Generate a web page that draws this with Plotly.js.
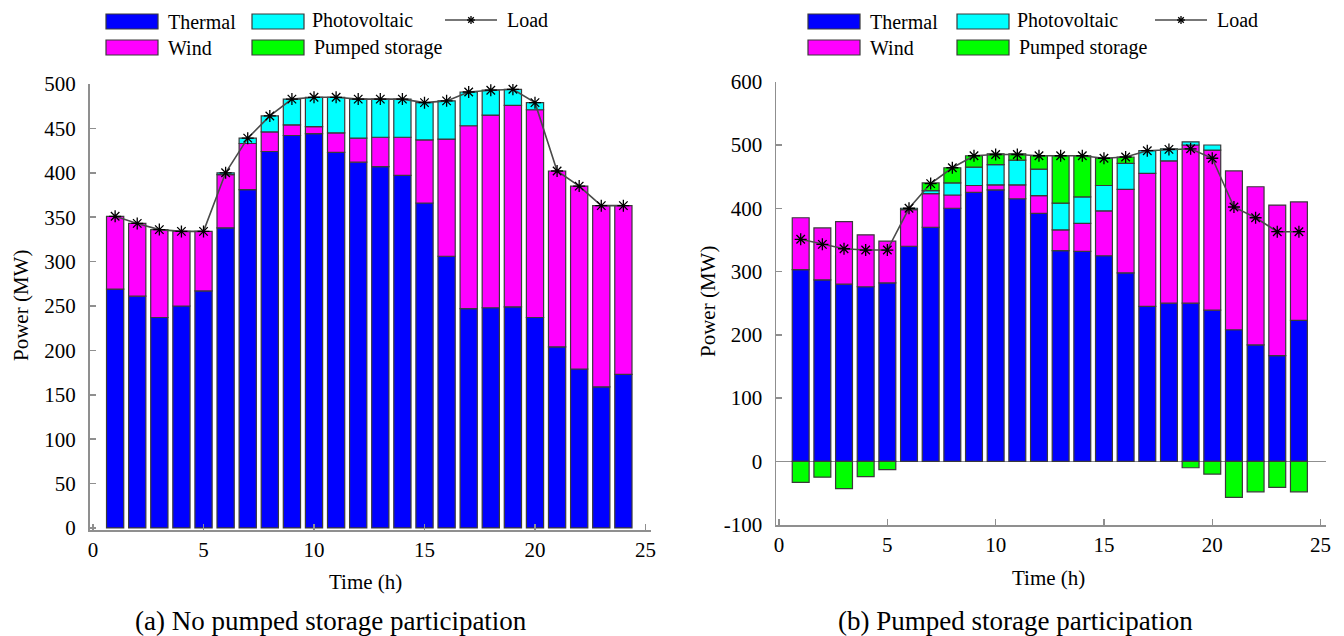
<!DOCTYPE html>
<html>
<head>
<meta charset="utf-8">
<script src="https://cdn.plot.ly/plotly-3.0.1.min.js"></script>
<style>
  html, body { margin: 0; padding: 0; background: #ffffff; }
  #chart { width: 1344px; height: 636px; }
</style>
</head>
<body>
<div id="chart"></div>
<script>
// Hourly dispatch, 24 h
const hours = [1, 2, 3, 4, 5, 6, 7, 8, 9, 10, 11, 12, 13, 14, 15, 16, 17, 18, 19, 20, 21, 22, 23, 24];

// System load (MW), same in both cases
const load = [351, 343, 336, 334, 334, 400, 439, 464, 483, 485, 485, 483, 483, 483, 479, 481, 491, 493, 494, 479, 402, 385, 363, 363];

// (a) No pumped storage participation (MW)
const thermalA = [269, 261, 237, 250, 267, 338, 381, 424, 442, 444, 423, 412, 407, 397, 366, 306, 247, 248, 249, 237, 204, 179, 159, 173];
const windA    = [82, 82, 99, 84, 67, 60, 52, 22, 12, 8, 22, 27, 33, 43, 71, 132, 206, 217, 227, 234, 198, 206, 204, 190];
const pvA      = [0, 0, 0, 0, 0, 2, 6, 18, 29, 33, 40, 44, 43, 43, 42, 43, 38, 28, 18, 8, 0, 0, 0, 0];

// (b) Pumped storage participation (MW); negative storage = pumping
const thermalB = [303, 287, 280, 276, 282, 340, 370, 400, 425, 429, 415, 392, 333, 332, 325, 298, 245, 250, 250, 239, 208, 184, 167, 223];
const windB    = [82, 82, 99, 82, 66, 58, 53, 21, 11, 8, 22, 28, 33, 44, 71, 132, 210, 225, 250, 253, 251, 250, 238, 187];
const pvB      = [0, 0, 0, 0, 0, 2, 5, 19, 29, 32, 39, 42, 42, 42, 40, 41, 36, 19, 5, 8, 0, 0, 0, 0];
const storageB = [-33, -25, -43, -24, -13, 0, 12, 24, 18, 17, 10, 21, 75, 65, 43, 10, 0, 0, -10, -20, -57, -48, -41, -48];

// Power axis ticks of panel (b), labelled with a plain hyphen minus
const powerTicksB = [-100, 0, 100, 200, 300, 400, 500, 600];
const powerTickTextB = ['-100', '0', '100', '200', '300', '400', '500', '600'];

const seriesNames = ['Thermal', 'Wind', 'Photovoltaic', 'Pumped storage', 'Load'];
const captions = ['(a) No pumped storage participation', '(b) Pumped storage participation'];

const colors = {
  Thermal: '#0000ff',
  Wind: '#ff00ff',
  Photovoltaic: '#00ffff',
  'Pumped storage': '#00ff00'
};

const FONT = "'Liberation Serif', 'Times New Roman', 'DejaVu Serif', serif";
const W = 1344, H = 636;
const px = x => x / W;          // page pixel -> paper x
const py = y => 1 - y / H;      // page pixel -> paper y

const skipZero = arr => arr.map(v => (v === 0 ? null : v));

function barTrace(name, values, xa, ya) {
  return {
    type: 'bar', name: name, x: hours, y: skipZero(values),
    xaxis: xa, yaxis: ya, showlegend: false,
    marker: { color: colors[name], line: { color: '#3a3a3a', width: 1.2 } },
    hoverinfo: 'x+y+name'
  };
}

function loadTrace(xa, ya) {
  return {
    type: 'scatter', mode: 'lines+markers', name: 'Load', x: hours, y: load,
    xaxis: xa, yaxis: ya, showlegend: false,
    line: { color: '#4a4a4a', width: 1.6 },
    marker: { symbol: 'asterisk-open', size: 10, color: '#000', line: { color: '#000', width: 1.3 } }
  };
}

const traces = [
  barTrace('Thermal', thermalA, 'x', 'y'),
  barTrace('Wind', windA, 'x', 'y'),
  barTrace('Photovoltaic', pvA, 'x', 'y'),
  loadTrace('x', 'y'),
  barTrace('Thermal', thermalB, 'x2', 'y2'),
  barTrace('Wind', windB, 'x2', 'y2'),
  barTrace('Photovoltaic', pvB, 'x2', 'y2'),
  barTrace('Pumped storage', storageB, 'x2', 'y2'),
  loadTrace('x2', 'y2')
];

const axisLine = {
  showline: true, linecolor: '#8f8f8f', linewidth: 1.5,
  ticks: 'inside', ticklen: 6, tickwidth: 1.5, tickcolor: '#8f8f8f',
  showgrid: false, mirror: false,
  tickfont: { family: FONT, size: 21, color: '#000' }
};

const xBase = Object.assign({}, axisLine, {
  tickmode: 'linear', tick0: 0, dtick: 5, zeroline: false
});

const titleFont = { family: FONT, size: 21, color: '#000' };

// Legend drawn as swatches + labels in page space
const shapes = [];
const annotations = [];

function swatch(x0, y0, x1, y1, color) {
  shapes.push({ type: 'rect', xref: 'paper', yref: 'paper',
    x0: px(x0), x1: px(x1), y0: py(y1), y1: py(y0),
    fillcolor: color, line: { color: '#3a3a3a', width: 1.2 } });
}
function label(x, y, text, size) {
  annotations.push({ xref: 'paper', yref: 'paper', x: px(x), y: py(y), text: text,
    showarrow: false, xanchor: 'left', yanchor: 'middle',
    font: { family: FONT, size: size || 20, color: '#000' } });
}
function loadKey(x0, x1, y) {
  shapes.push({ type: 'line', xref: 'paper', yref: 'paper',
    x0: px(x0), x1: px(x1), y0: py(y), y1: py(y), line: { color: '#4a4a4a', width: 1.4 } });
  const cx = (x0 + x1) / 2, r = 4;
  [[-r, 0, r, 0], [0, -r, 0, r], [-r * 0.7, -r * 0.7, r * 0.7, r * 0.7], [-r * 0.7, r * 0.7, r * 0.7, -r * 0.7]].forEach(d => {
    shapes.push({ type: 'line', xref: 'paper', yref: 'paper',
      x0: px(cx + d[0]), x1: px(cx + d[2]), y0: py(y + d[1]), y1: py(y + d[3]),
      line: { color: '#000', width: 1.3 } });
  });
}

function legendBlock(o) {
  swatch(o.c1, 14, o.c1 + 52, 29, colors.Thermal);
  label(o.c1 + 60, 22, seriesNames[0]);
  swatch(o.c1, 40, o.c1 + 52, 55, colors.Wind);
  label(o.c1 + 60, 48, seriesNames[1]);
  swatch(o.c2, 14, o.c2 + 52, 29, colors.Photovoltaic);
  label(o.c2 + 58, 20, seriesNames[2]);
  swatch(o.c2, 40, o.c2 + 52, 55, colors['Pumped storage']);
  label(o.c2 + 60, 47, seriesNames[3]);
  loadKey(o.c3, o.c3 + 52, 20);
  label(o.c3 + 60, 20, seriesNames[4]);
}

legendBlock({ c1: 106, c2: 252, c3: 445 });
legendBlock({ c1: 808, c2: 957, c3: 1155 });

// Axis titles placed in page space
function axisTitle(x, y, text, angle) {
  annotations.push({ xref: 'paper', yref: 'paper', x: px(x), y: py(y), text: text,
    showarrow: false, xanchor: 'center', yanchor: 'middle', textangle: angle || 0, font: titleFont });
}
axisTitle(366, 582, 'Time (h)');
axisTitle(1048, 578, 'Time (h)');
axisTitle(21, 306, 'Power (MW)', -90);
axisTitle(708, 302, 'Power (MW)', -90);

annotations.push({ xref: 'paper', yref: 'paper', x: px(331), y: py(621), text: captions[0],
  showarrow: false, xanchor: 'center', yanchor: 'middle', font: { family: FONT, size: 27, color: '#000' } });
annotations.push({ xref: 'paper', yref: 'paper', x: px(1015), y: py(621), text: captions[1],
  showarrow: false, xanchor: 'center', yanchor: 'middle', font: { family: FONT, size: 27, color: '#000' } });

const layout = {
  width: W, height: H,
  margin: { l: 0, r: 0, t: 0, b: 0 },
  paper_bgcolor: '#ffffff', plot_bgcolor: '#ffffff',
  barmode: 'relative', bargap: 0.22,
  showlegend: false,
  font: { family: FONT, color: '#000' },
  xaxis: Object.assign({}, xBase, { domain: [px(89.5), px(651)], range: [-0.16, 25.25], anchor: 'y' }),
  yaxis: Object.assign({}, axisLine, {
    domain: [py(530), py(84)], range: [-2.3, 500], tickmode: 'linear', tick0: 0, dtick: 50,
    zeroline: false, anchor: 'x', ticklabelstandoff: 8
  }),
  xaxis2: Object.assign({}, xBase, { domain: [px(776), px(1326)], range: [-0.14, 25.25], anchor: 'y2' }),
  yaxis2: Object.assign({}, axisLine, {
    domain: [py(525), py(81.7)], range: [-100.5, 600],
    tickmode: 'array', tickvals: powerTicksB, ticktext: powerTickTextB,
    zeroline: true, zerolinecolor: '#8f8f8f', zerolinewidth: 1.5, anchor: 'x2', ticklabelstandoff: 8
  }),
  shapes: shapes,
  annotations: annotations
};

Plotly.newPlot('chart', traces, layout, { displayModeBar: false, staticPlot: true });
</script>
</body>
</html>
